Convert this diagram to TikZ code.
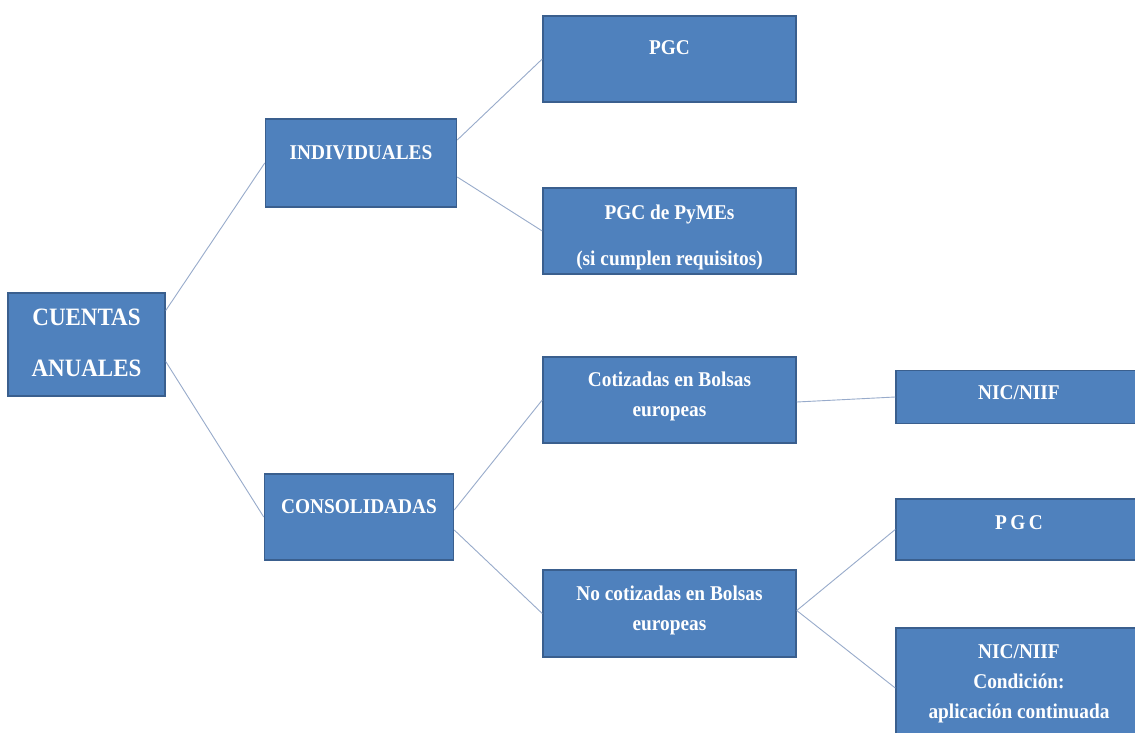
\documentclass[tikz,border=0pt]{standalone}
\usepackage{fontspec}
\setmainfont{Liberation Serif}[FakeStretch=0.92]
\usetikzlibrary{positioning}
\usepackage{xcolor}
\definecolor{boxfill}{HTML}{4F81BD}
\definecolor{boxedge}{HTML}{3A5F8E}
\definecolor{linkgray}{HTML}{98ABCB}

\begin{document}
\begin{tikzpicture}[x=1pt,y=-1pt,
    box/.style={draw=boxedge, fill=boxfill, line width=1.5pt, inner sep=0pt},
    txt/.style={text=white, font=\bfseries\fontsize{21}{30}\selectfont, align=center,
        anchor=north, inner sep=0pt, yshift=-16pt},
    link/.style={draw=linkgray, line width=0.9pt}]
    \useasboundingbox (0,0) rectangle (1135,733);
    \fill[white] (0,0) rectangle (1135,733);
    \clip (0,0) rectangle (1135,733);
    % root
    \node[box, minimum width=157pt, minimum height=103pt,
        label={[txt, font=\bfseries\fontsize{25}{51}\selectfont]north:CUENTAS\\ANUALES}] (cuentas) at (86.5,344.5) {};
    % second column
    \node[box, minimum width=191pt, minimum height=88pt,
        label={[txt, yshift=-11pt]north:INDIVIDUALES}] (indiv) at (361,163) {};
    \node[box, minimum width=189pt, minimum height=86pt,
        label={[txt, yshift=-10pt]north:CONSOLIDADAS}] (consol) at (359,517) {};
    % third column
    \node[box, minimum width=253pt, minimum height=86pt,
        label={[txt, yshift=-9pt]north:PGC}] (pgc) at (669.5,59) {};
    \node[box, minimum width=253pt, minimum height=86pt,
        label={[txt, yshift=-1pt]north:PGC de PyMEs\\[16pt](si cumplen requisitos)}] (pymes) at (669.5,231) {};
    \node[box, minimum width=253pt, minimum height=86pt,
        label={[txt, yshift=1pt]north:Cotizadas en Bolsas\\europeas}] (cotiz) at (669.5,400) {};
    \node[box, minimum width=253pt, minimum height=87pt,
        label={[txt]north:No cotizadas en Bolsas\\europeas}] (nocotiz) at (669.5,613.5) {};
    % fourth column
    \node[box, minimum width=246pt, minimum height=53pt,
        label={[txt]north:NIC/NIIF}] (nic) at (1019,397) {};
    \node[box, minimum width=246pt, minimum height=61pt,
        label={[txt, yshift=-1pt]north:P\,G\,C}] (pgcb) at (1019,529.5) {};
    \node[box, minimum width=246pt, minimum height=120pt,
        label={[txt, yshift=-1pt]north:NIC/NIIF\\Condición:\\aplicación continuada}] (nicb) at (1019,688) {};
    % connectors
    \foreach \a/\s/\b in {cuentas/34/indiv, cuentas/-17/consol, indiv/23/pgc,
        indiv/-14/pymes, consol/7/cotiz, consol/-13/nocotiz, cotiz/-2/nic,
        nocotiz/3/pgcb, nocotiz/3/nicb}
        \draw[link] ([yshift=\s pt]\a.east) -- (\b.west);
\end{tikzpicture}
\end{document}
